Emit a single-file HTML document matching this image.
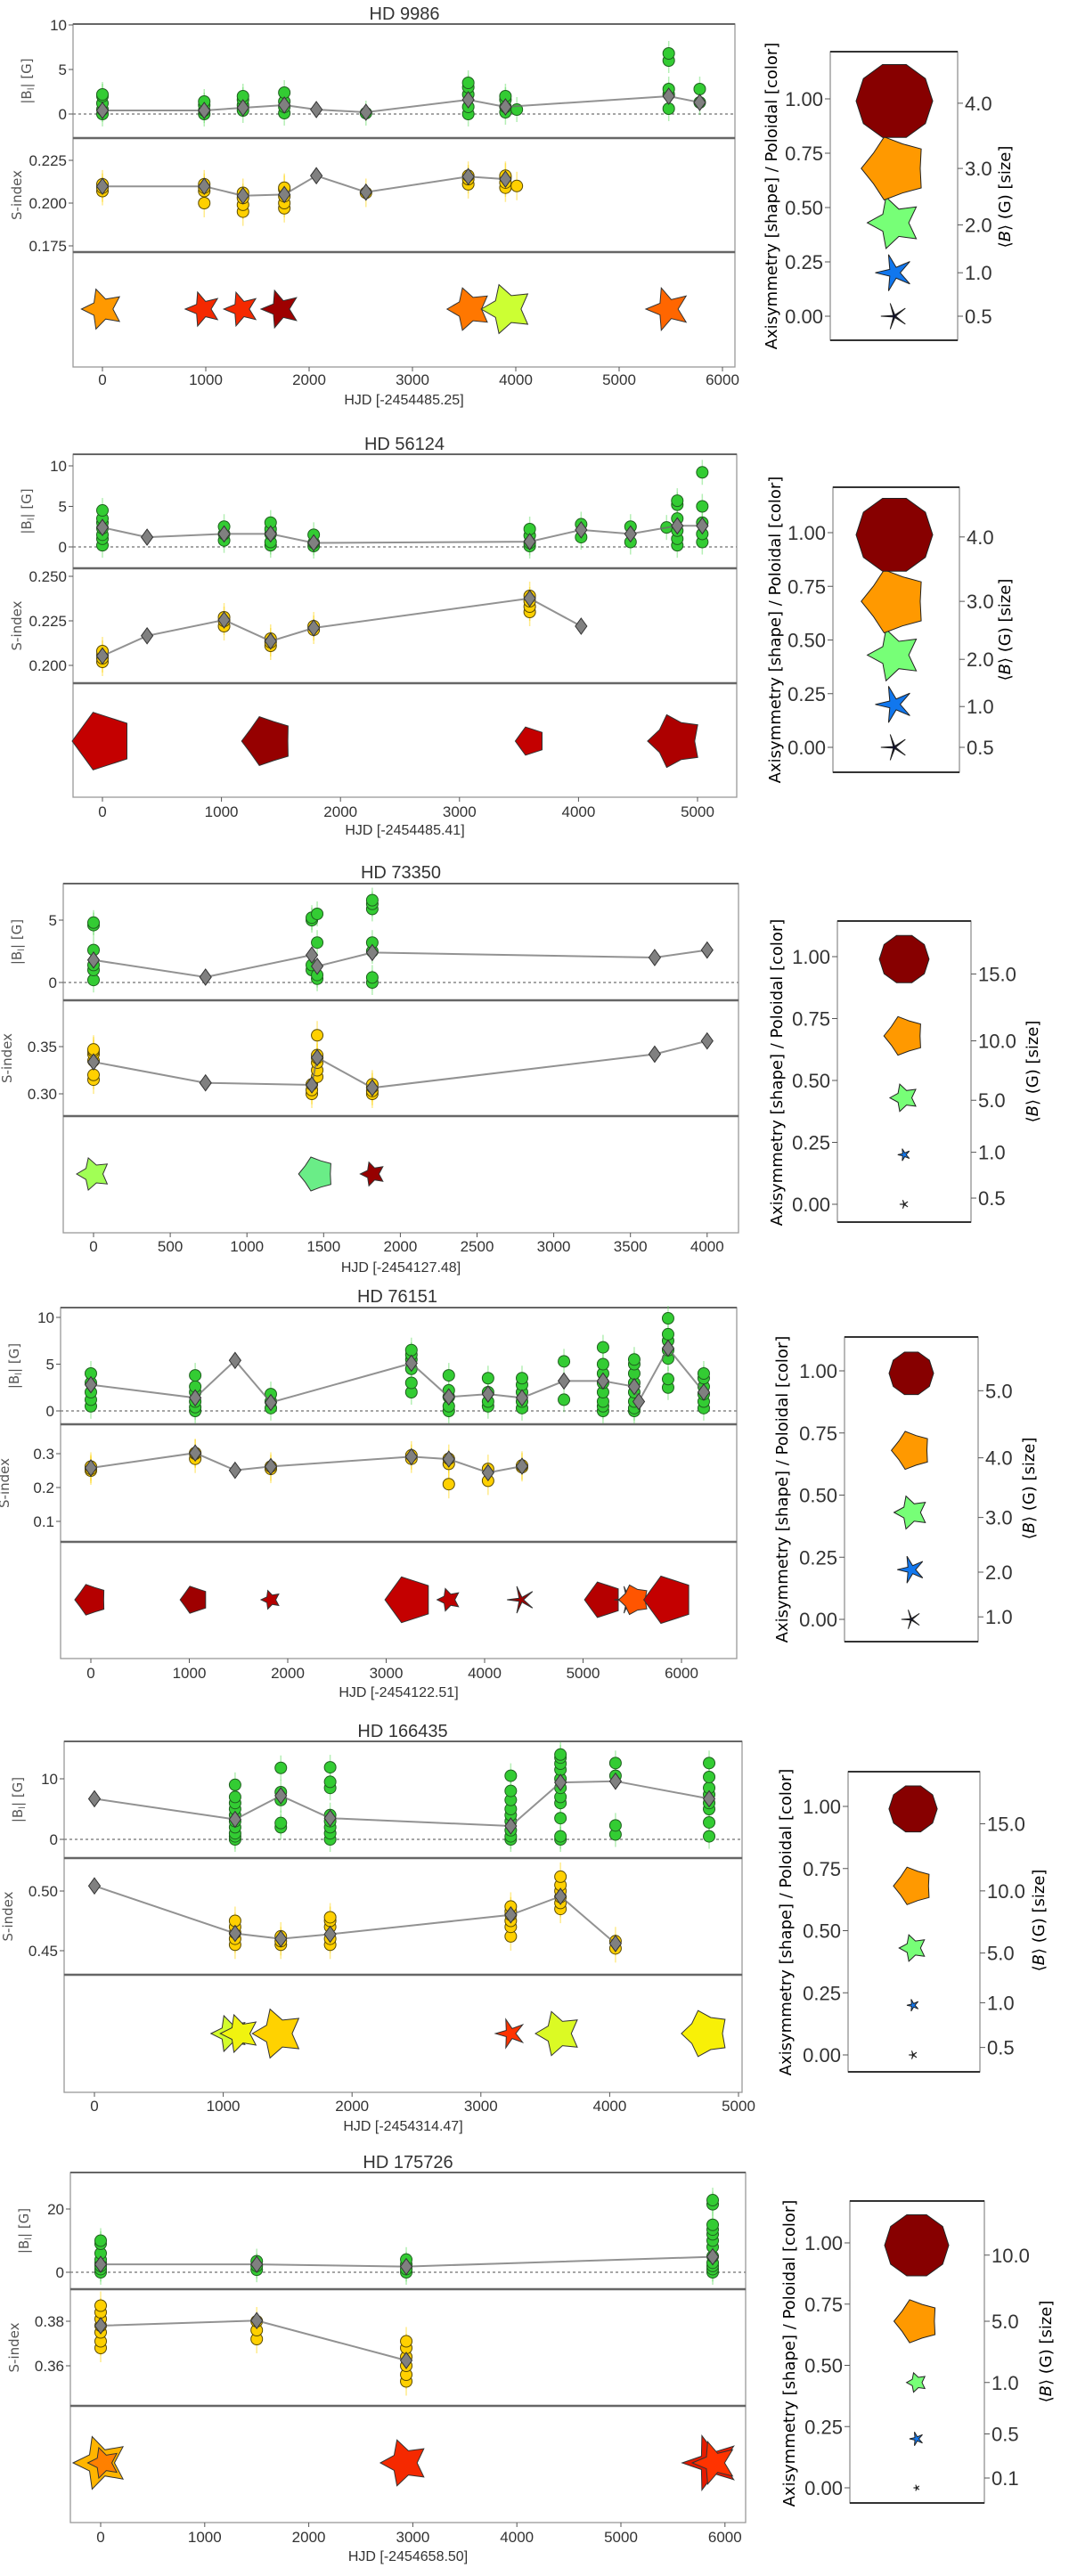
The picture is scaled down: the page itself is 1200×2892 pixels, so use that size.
<!DOCTYPE html>
<html><head><meta charset="utf-8"><title>Magnetic field and S-index time series</title>
<style>
html,body{margin:0;padding:0;background:#fff;}
svg{display:block;}
text{font-family:"Liberation Sans Narrow","Liberation Sans",sans-serif;fill:#333;}
.lg{font-family:"DejaVu Sans","Liberation Sans",sans-serif;fill:#000;}
</style></head>
<body>
<svg id="chart" xmlns="http://www.w3.org/2000/svg" width="1200" height="2892" viewBox="0 0 1200 2892"></svg>
<script>
// ---------------- DATA ----------------
// HD 9986
const p1Times=[0,985,1360,1760,2070,2550,3540,3900,4010,5480,5780];
const p1BMean=[0.4,0.4,0.7,1.0,0.5,0.2,1.6,0.8,null,2.0,1.3];
const p1BObs=[[0,0.5,1.2,2.0,2.2],[0,0.4,1.0,1.4],[0.4,1.0,1.6,2.0],[0.1,0.8,1.4,2.4],[],[0.1],[0,0.8,2.2,3.0,3.5],[0.2,0.8,1.6,2.0],[0.5],[0.6,2.2,2.8,6.0,6.8],[1.3,2.8]];
const p1SMean=[0.2098,0.2098,0.2043,0.205,0.216,0.2064,0.2155,0.214,null,null,null];
const p1SObs=[[0.207,0.209,0.211],[0.200,0.207,0.209,0.211],[0.195,0.199,0.203,0.206],[0.197,0.200,0.204,0.208,0.209],[],[0.206],[0.211,0.214,0.216],[0.209,0.212,0.215,0.216],[0.210],[],[]];
const p1MarkT=[0,974,1345,1724,3550,3914,5474];
const p1MarkAxi=[0.4,0.35,0.35,0.35,0.45,0.45,0.35];
const p1MarkPol=[0.68,0.82,0.82,0.96,0.72,0.55,0.74];
const p1MarkB=[1.2,0.87,0.85,1.05,1.35,1.8,1.35];
const p1XTicks=[0,1000,2000,3000,4000,5000,6000];
const p1BTicks=[0,5,10];
const p1STicks=[0.175,0.200,0.225];
const p1SLabels=["0.175","0.200","0.225"];
const p1LegB=["0.5","1.0","2.0","3.0","4.0"];
const p1LegBVal=[0.5,1,2,3,4];

// HD 56124
const p2Times=[0,375,1022,1413,1775,3590,4022,4437,4740,4830,5040];
const p2BMean=[2.4,1.2,1.6,1.6,0.5,0.65,2.1,1.6,null,2.6,2.6];
const p2BObs=[[0.2,1,1.5,2.3,3,3.5,4.5],[],[0.8,1.6,2.5],[0.2,0.6,1.6,2.2,3.0],[0.1,0.5,1.5],[0.1,0.5,1.4,2.2],[1.2,2.8],[0.6,2.5],[2.4],[0.2,1,2,3.5,5.2,5.7],[0.6,1.6,3,5,9.2]];
const p2SMean=[0.2053,0.2166,0.2255,0.2136,0.221,0.2376,0.222,null,null,null,null];
const p2SObs=[[0.202,0.204,0.206,0.208],[],[0.222,0.225,0.227],[0.211,0.213,0.215],[0.220,0.222],[0.230,0.233,0.236,0.239],[],[],[],[],[]];
const p2MarkT=[0,1385,3593,4813];
const p2MarkAxi=[0.85,0.7,0.85,0.6];
const p2MarkPol=[0.91,0.97,0.91,0.94];
const p2MarkB=[2.5,1.8,0.6,2.1];
const p2XTicks=[0,1000,2000,3000,4000,5000];
const p2BTicks=[0,5,10];
const p2STicks=[0.200,0.225,0.250];
const p2SLabels=["0.200","0.225","0.250"];
const p2LegB=["0.5","1.0","2.0","3.0","4.0"];
const p2LegBVal=[0.5,1,2,3,4];

// HD 73350
const p3Times=[0,730,1423,1458,1817,3658,4000];
const p3BMean=[1.8,0.43,2.2,1.3,2.4,2.0,2.6];
const p3BObs=[[0.2,1,1.4,2.6,4.6,4.8],[],[1,1.4,5,5.2],[0.3,0.6,3.2,5.5],[0,0.4,2.5,3.2,5.9,6.3,6.6],[],[]];
const p3SMean=[0.3338,0.3116,0.3094,0.3384,0.3063,0.342,0.356];
const p3SObs=[[0.315,0.32,0.335,0.342,0.345,0.347],[],[0.300,0.304,0.310],[0.318,0.325,0.333,0.338,0.341,0.362],[0.300,0.303,0.307,0.310],[],[]];
const p3MarkT=[0,1453,1820];
const p3MarkAxi=[0.45,0.68,0.4];
const p3MarkPol=[0.49,0.40,0.97];
const p3MarkB=[7,7.7,3.8];
const p3XTicks=[0,500,1000,1500,2000,2500,3000,3500,4000];
const p3BTicks=[0,5];
const p3STicks=[0.30,0.35];
const p3SLabels=["0.30","0.35"];
const p3LegB=["0.5","1.0","5.0","10.0","15.0"];
const p3LegBVal=[0.5,1,5,10,15];

// HD 76151
const p4Times=[0,1060,1465,1828,3256,3636,4035,4380,4806,5203,5520,5566,5864,6226];
const p4BMean=[2.8,1.4,5.4,0.9,5.1,1.5,1.8,1.4,3.2,3.2,2.6,1.0,6.7,2.0];
const p4BObs=[[0.5,1.2,2,3,4],[0,0.4,1,2,2.6,3.8],[],[0.3,1,1.8],[2,3,4.5,5.5,6,6.5],[0,0.5,1.5,2.2,3.8],[0.5,1,2,3.5],[0.3,1,2,2.8,3.5],[1.2,5.3],[0,0.5,1,2,3,4,5,6.8],[0,0.3,1,2,3,4,5,5.5],[],[2.5,3.4,5.6,6.5,7.5,8.2,9.9],[0.3,1,1.8,2.6,3.5,4]];
const p4SMean=[0.258,0.302,0.251,0.262,0.291,0.284,0.244,0.263,null,null,null,null,null,null];
const p4SObs=[[0.250,0.255,0.262],[0.285,0.3,0.302],[],[0.255,0.262],[0.285,0.295],[0.21,0.27,0.285],[0.22,0.255],[0.26,0.265],[],[],[],[],[],[]];
const p4MarkT=[0,1050,1828,3231,3638,4371,5204,5460,5520,5869];
const p4MarkAxi=[0.7,0.8,0.4,0.85,0.4,0.08,0.85,0.05,0.6,0.85];
const p4MarkPol=[0.93,0.96,0.93,0.91,0.92,0.96,0.93,0.96,0.76,0.91];
const p4MarkB=[2.6,2.0,0.96,5.8,1.4,2.0,3.5,2.0,2.4,6.2];
const p4XTicks=[0,1000,2000,3000,4000,5000,6000];
const p4BTicks=[0,5,10];
const p4STicks=[0.1,0.2,0.3];
const p4SLabels=["0.1","0.2","0.3"];
const p4LegB=["1.0","2.0","3.0","4.0","5.0"];
const p4LegBVal=[1,2,3,4,5];

// HD 166435
const p5Times=[0,1092,1447,1830,3232,3618,4045,4772];
const p5BMean=[6.7,3.3,7.2,3.5,2.2,9.4,9.6,6.7];
const p5BObs=[[],[0,0.5,1,2,3,4,5,6,7,9],[2,2.7,6.5,7.8,11.8],[0,1,2,3,4,8.5,9.5,11.9],[0,0.5,1.5,3,4,5,6.5,8,10.5],[0,0.5,3.5,6,7,8.5,10,11.5,12.5,13.5,14],[0.8,2.3,10.5,12.6],[0.5,2.8,5,6,7.4,8.5,10.3,12.6]];
const p5SMean=[0.5043,0.4645,0.46,0.4638,0.48,0.4955,0.456,null];
const p5SObs=[[],[0.455,0.46,0.465,0.47,0.475],[0.455,0.458,0.462],[0.455,0.46,0.47,0.475,0.478],[0.462,0.47,0.475,0.48,0.483,0.487],[0.485,0.49,0.495,0.5,0.505,0.512],[0.452,0.458],[]];
const p5MarkT=[1050,1130,1425,3230,3603,4744];
const p5MarkAxi=[0.4,0.4,0.45,0.25,0.45,0.6];
const p5MarkPol=[0.56,0.6,0.64,0.8,0.57,0.61];
const p5MarkB=[9,10,17,5.8,13.8,15];
const p5XTicks=[0,1000,2000,3000,4000,5000];
const p5BTicks=[0,10];
const p5STicks=[0.45,0.50];
const p5SLabels=["0.45","0.50"];
const p5LegB=["0.5","1.0","5.0","10.0","15.0"];
const p5LegBVal=[0.5,1,5,10,15];

// HD 175726
const p6Times=[0,1500,2937,5882];
const p6BMean=[2.5,2.5,1.8,4.9];
const p6BObs=[[0,1,2,3,4,6,9,10],[0.8,2,3.5],[0,1,2.5,4],[0,1,2,3,5,8,10,12,13.5,15,21.5,22.8]];
const p6SMean=[0.378,0.3803,0.3624,null];
const p6SObs=[[0.368,0.371,0.375,0.378,0.381,0.384,0.387],[0.372,0.376,0.38],[0.353,0.356,0.36,0.364,0.368,0.371],[]];
const p6MarkT=[0,30,2919,5863,5900];
const p6MarkAxi=[0.4,0.4,0.43,0.3,0.35];
const p6MarkPol=[0.66,0.71,0.82,0.85,0.8];
const p6MarkB=[7.4,2.5,5.6,7.9,4.8];
const p6XTicks=[0,1000,2000,3000,4000,5000,6000];
const p6BTicks=[0,20];
const p6STicks=[0.36,0.38];
const p6SLabels=["0.36","0.38"];
const p6LegB=["0.1","0.5","1.0","5.0","10.0"];
const p6LegBVal=[0.1,0.5,1,5,10];

// legend positions (axis units, bottom to top)
const legPos=[0,0.2,0.43,0.68,0.99];

// ---------------- LAYOUT ----------------
const panels=[
 {name:"HD 9986",ref:"-2454485.25",d:[p1Times,p1BMean,p1BObs,p1SMean,p1SObs,p1MarkT,p1MarkAxi,p1MarkPol,p1MarkB,p1XTicks,p1BTicks,p1STicks,p1SLabels,p1LegB,p1LegBVal],
  L:82,R:825,T:27,Y1:155,Y2:283,Bot:412,x0:115,ppd:0.116,bZero:128,ppG:10,sRef:0.2,sRefY:228,ppS:1920,markY:347,tx:454,ty:22,tickY:432,xlY:454,
  bx0:932,bx1:1075,by0:58,by1:382,y1v:111,y0v:355,mx:1004,k:21.5,rt:[0,0.2,0.42,0.68,0.98],alx:865,aly:220,arx:1127,ary:221},
 {name:"HD 56124",ref:"-2454485.41",d:[p2Times,p2BMean,p2BObs,p2SMean,p2SObs,p2MarkT,p2MarkAxi,p2MarkPol,p2MarkB,p2XTicks,p2BTicks,p2STicks,p2SLabels,p2LegB,p2LegBVal],
  L:82,R:827,T:510,Y1:638,Y2:767,Bot:895,x0:115,ppd:0.1336,bZero:614,ppG:9.1,sRef:0.2,sRefY:747,ppS:2000,markY:832,tx:454,ty:505,tickY:917,xlY:937,
  bx0:935,bx1:1077,by0:547,by1:867,y1v:598,y0v:839,mx:1004,k:21.5,rt:[0,0.19,0.41,0.68,0.98],alx:869,aly:707,arx:1127,ary:707},
 {name:"HD 73350",ref:"-2454127.48",d:[p3Times,p3BMean,p3BObs,p3SMean,p3SObs,p3MarkT,p3MarkAxi,p3MarkPol,p3MarkB,p3XTicks,p3BTicks,p3STicks,p3SLabels,p3LegB,p3LegBVal],
  L:71,R:829,T:992,Y1:1123,Y2:1253,Bot:1384,x0:105,ppd:0.1722,bZero:1103,ppG:14,sRef:0.30,sRefY:1228,ppS:1060,markY:1318,tx:450,ty:986,tickY:1405,xlY:1428,
  bx0:940,bx1:1090,by0:1034,by1:1372,y1v:1074,y0v:1352,mx:1015,k:7.2,rt:[0.025,0.21,0.42,0.66,0.93],alx:871,aly:1204,arx:1158,ary:1203},
 {name:"HD 76151",ref:"-2454122.51",d:[p4Times,p4BMean,p4BObs,p4SMean,p4SObs,p4MarkT,p4MarkAxi,p4MarkPol,p4MarkB,p4XTicks,p4BTicks,p4STicks,p4SLabels,p4LegB,p4LegBVal],
  L:68,R:827,T:1468,Y1:1599,Y2:1731,Bot:1862,x0:102,ppd:0.1105,bZero:1584,ppG:10.5,sRef:0.1,sRefY:1708,ppS:380,markY:1796,tx:446,ty:1462,tickY:1884,xlY:1905,
  bx0:948,bx1:1098,by0:1501,by1:1843,y1v:1539,y0v:1818,mx:1023,k:11.2,rt:[0.01,0.19,0.41,0.65,0.92],alx:877,aly:1672,arx:1154,ary:1671},
 {name:"HD 166435",ref:"-2454314.47",d:[p5Times,p5BMean,p5BObs,p5SMean,p5SObs,p5MarkT,p5MarkAxi,p5MarkPol,p5MarkB,p5XTicks,p5BTicks,p5STicks,p5SLabels,p5LegB,p5LegBVal],
  L:72,R:833,T:1955,Y1:2086,Y2:2217,Bot:2349,x0:106,ppd:0.1446,bZero:2065,ppG:6.8,sRef:0.45,sRefY:2190,ppS:1340,markY:2283,tx:452,ty:1950,tickY:2370,xlY:2392,
  bx0:952,bx1:1100,by0:1989,by1:2326,y1v:2028,y0v:2307,mx:1025,k:7,rt:[0.03,0.21,0.41,0.66,0.93],alx:881,aly:2158,arx:1165,ary:2156},
 {name:"HD 175726",ref:"-2454658.50",d:[p6Times,p6BMean,p6BObs,p6SMean,p6SObs,p6MarkT,p6MarkAxi,p6MarkPol,p6MarkB,p6XTicks,p6BTicks,p6STicks,p6SLabels,p6LegB,p6LegBVal],
  L:79,R:837,T:2439,Y1:2570,Y2:2701,Bot:2832,x0:113,ppd:0.1168,bZero:2551,ppG:3.55,sRef:0.36,sRefY:2656,ppS:2500,markY:2765,tx:458,ty:2434,tickY:2854,xlY:2875,
  bx0:954,bx1:1105,by0:2471,by1:2810,y1v:2518,y0v:2793,mx:1029,k:11.4,rt:[0.04,0.22,0.43,0.68,0.95],alx:885,aly:2642,arx:1173,ary:2640}
];

const NS="http://www.w3.org/2000/svg";
const svg=document.getElementById('chart');
function mk(tag,attrs,parent){const e=document.createElementNS(NS,tag);for(const k in attrs)e.setAttribute(k,attrs[k]);(parent||svg).appendChild(e);return e;}

const cmStops=[[0,[10,10,48]],[0.2,[17,119,238]],[0.43,[119,255,119]],[0.55,[204,255,51]],[0.62,[255,238,0]],[0.68,[255,153,0]],[0.8,[255,51,0]],[0.9,[204,0,0]],[1.0,[127,0,0]]];
function cmap(v){v=Math.max(0,Math.min(1,v));for(let i=1;i<cmStops.length;i++){if(v<=cmStops[i][0]){const a=cmStops[i-1],b=cmStops[i];const t=(v-a[0])/(b[0]-a[0]);const c=a[1].map((x,j)=>Math.round(x+(b[1][j]-x)*t));return 'rgb('+c.join(',')+')';}}return 'rgb(127,0,0)';}
function shapePts(cx,cy,R,a){const pts=[];if(a>=0.9){for(let i=0;i<10;i++){const t=Math.PI+i*Math.PI/5;pts.push((cx+R*Math.cos(t)).toFixed(1)+','+(cy+R*Math.sin(t)).toFixed(1));}}else{const ir=Math.min(0.809,0.1+a);for(let i=0;i<10;i++){const t=Math.PI+i*Math.PI/5;const r=i%2?R*ir:R;pts.push((cx+r*Math.cos(t)).toFixed(1)+','+(cy+r*Math.sin(t)).toFixed(1));}}return pts.join(' ');}

panels.forEach((P,pi)=>{
  const [times,bMean,bObs,sMean,sObs,mT,mA,mP,mB,xT,bT,sT,sL,legB,legBV]=P.d;
  const xs=d=>P.x0+d*P.ppd, yb=v=>P.bZero-v*P.ppG, ys=v=>P.sRefY-(v-P.sRef)*P.ppS;
  const g=mk('g',{});
  
  
  const title=mk('text',{x:P.tx,y:P.ty,'text-anchor':'middle','font-size':20,fill:'#111'},g);title.textContent=P.name;
  
  
  // frames
  [[P.T,P.Y1,'magnetic-field-subplot'],[P.Y1,P.Y2,'s-index-subplot'],[P.Y2,P.Bot,'geometry-subplot']].forEach(s=>{
    const r=mk('rect',{x:P.L,y:s[0],width:P.R-P.L,height:s[1]-s[0],fill:'none',stroke:'#999','stroke-width':1.3},g);
    
    
  });
  [P.T,P.Y1,P.Y2].forEach(y=>{const l=mk('line',{x1:P.L,x2:P.R,y1:y,y2:y,stroke:'#666','stroke-width':y===P.T?2:2.5},g);});
  // y ticks B
  bT.forEach(v=>{const y=yb(v);mk('line',{x1:P.L-5,x2:P.L,y1:y,y2:y,stroke:'#555'},g);const t=mk('text',{x:P.L-7,y:y+6,'text-anchor':'end','font-size':17},g);t.textContent=String(v);});
  sT.forEach((v,i)=>{const y=ys(v);mk('line',{x1:P.L-5,x2:P.L,y1:y,y2:y,stroke:'#555'},g);const t=mk('text',{x:P.L-7,y:y+6,'text-anchor':'end','font-size':17},g);t.textContent=sL[i];});
  xT.forEach(v=>{const x=xs(v);mk('line',{x1:x,x2:x,y1:P.Bot,y2:P.Bot+5,stroke:'#555'},g);const t=mk('text',{x:x,y:P.tickY,'text-anchor':'middle','font-size':17},g);t.textContent=String(v);});
  const xl=mk('text',{x:(P.L+P.R)/2,y:P.xlY,'text-anchor':'middle','font-size':16},g);xl.textContent='HJD ['+P.ref+']';
  
  
  const ybm=(P.T+P.Y1)/2;
  const bl=mk('text',{x:0,y:0,'text-anchor':'middle','font-size':15,fill:'#555',transform:'translate('+(P.L-47)+','+ybm+') rotate(-90)',class:'lg'},g);
  bl.setAttribute('style','fill:#555');
  bl.innerHTML='|B<tspan font-size="10" dy="3">l</tspan><tspan dy="-3">| [G]</tspan>';
  
  
  const sl=mk('text',{x:0,y:0,'text-anchor':'middle','font-size':15,transform:'translate('+(P.L-58)+','+((P.Y1+P.Y2)/2)+') rotate(-90)',class:'lg'},g);
  sl.setAttribute('style','fill:#555');sl.textContent='S-index';
  
  
  // zero line
  const zl=mk('line',{x1:P.L,x2:P.R,y1:yb(0),y2:yb(0),stroke:'#888','stroke-width':1.5,'stroke-dasharray':'3,3'},g);
  
  
  // B observations
  times.forEach((t,i)=>{bObs[i].forEach(v=>{const x=xs(t),y=yb(v);mk('line',{x1:x,x2:x,y1:y-14,y2:y+14,stroke:'rgba(90,220,90,0.45)','stroke-width':1.5},g);});});
  times.forEach((t,i)=>{bObs[i].forEach(v=>{const c=mk('circle',{cx:xs(t),cy:yb(v),r:6.5,fill:'#33cc33',stroke:'#1f5f1f','stroke-width':1},g);});});
  let pts=[];times.forEach((t,i)=>{if(bMean[i]!==null)pts.push(xs(t).toFixed(1)+','+yb(bMean[i]).toFixed(1));});
  const bline=mk('polyline',{points:pts.join(' '),fill:'none',stroke:'rgba(110,110,110,0.75)','stroke-width':2},g);
  
  
  times.forEach((t,i)=>{if(bMean[i]===null)return;const x=xs(t),y=yb(bMean[i]);const d=mk('polygon',{points:`${x},${y-9} ${x+6.5},${y} ${x},${y+9} ${x-6.5},${y}`,fill:'#808080',stroke:'#333','stroke-width':1},g);});
  // S observations
  times.forEach((t,i)=>{sObs[i].forEach(v=>{const x=xs(t),y=ys(v);mk('line',{x1:x,x2:x,y1:y-16,y2:y+16,stroke:'rgba(255,210,0,0.45)','stroke-width':1.5},g);});});
  times.forEach((t,i)=>{sObs[i].forEach(v=>{const c=mk('circle',{cx:xs(t),cy:ys(v),r:6.5,fill:'#ffd000',stroke:'#5a4a00','stroke-width':1},g);});});
  pts=[];times.forEach((t,i)=>{if(sMean[i]!==null)pts.push(xs(t).toFixed(1)+','+ys(sMean[i]).toFixed(1));});
  const sline=mk('polyline',{points:pts.join(' '),fill:'none',stroke:'rgba(110,110,110,0.75)','stroke-width':2},g);
  
  
  times.forEach((t,i)=>{if(sMean[i]===null)return;const x=xs(t),y=ys(sMean[i]);const d=mk('polygon',{points:`${x},${y-9} ${x+6.5},${y} ${x},${y+9} ${x-6.5},${y}`,fill:'#808080',stroke:'#333','stroke-width':1},g);});
  // geometry markers
  mT.forEach((t,i)=>{const R=P.k*Math.sqrt(mB[i]);const m=mk('polygon',{points:shapePts(xs(t),P.markY,R,mA[i]),fill:cmap(mP[i]),stroke:'#333','stroke-width':1},g);});
  // legend
  const lg=mk('g',{},g);
  
  
  const ly=v=>P.y0v-v*(P.y0v-P.y1v);
  mk('rect',{x:P.bx0,y:P.by0,width:P.bx1-P.bx0,height:P.by1-P.by0,fill:'none',stroke:'#888','stroke-width':1.2},lg);
  mk('line',{x1:P.bx0,x2:P.bx1,y1:P.by0,y2:P.by0,stroke:'#333','stroke-width':2},lg);
  mk('line',{x1:P.bx0,x2:P.bx1,y1:P.by1,y2:P.by1,stroke:'#333','stroke-width':2},lg);
  [0,0.25,0.5,0.75,1].forEach(v=>{const y=ly(v);mk('line',{x1:P.bx0-6,x2:P.bx0,y1:y,y2:y,stroke:'#555'},lg);const t=mk('text',{x:P.bx0-8,y:y+8,'text-anchor':'end','font-size':22,fill:'#111'},lg);t.textContent=v.toFixed(2);});
  P.rt.forEach((v,i)=>{const y=ly(v);mk('line',{x1:P.bx1,x2:P.bx1+6,y1:y,y2:y,stroke:'#555'},lg);const t=mk('text',{x:P.bx1+8,y:y+8,'font-size':22,fill:'#111'},lg);t.textContent=legB[i];});
  legPos.forEach((v,i)=>{const R=P.k*Math.sqrt(legBV[i]);const m=mk('polygon',{points:shapePts(P.mx,ly(v),R,v),fill:cmap(v),stroke:'#222','stroke-width':1},lg);});
  const al=mk('text',{x:0,y:0,'text-anchor':'middle','font-size':18,class:'lg',transform:'translate('+P.alx+','+P.aly+') rotate(-90)'},lg);
  al.setAttribute('dy','7');al.textContent='Axisymmetry [shape] / Poloidal [color]';
  
  
  const ar=mk('text',{x:0,y:0,'text-anchor':'middle','font-size':18,class:'lg',transform:'translate('+P.arx+','+P.ary+') rotate(-90)'},lg);
  ar.setAttribute('dy','7');ar.innerHTML='⟨<tspan font-style="italic">B</tspan>⟩ (G) [size]';
  
  
});
</script>
</body></html>
